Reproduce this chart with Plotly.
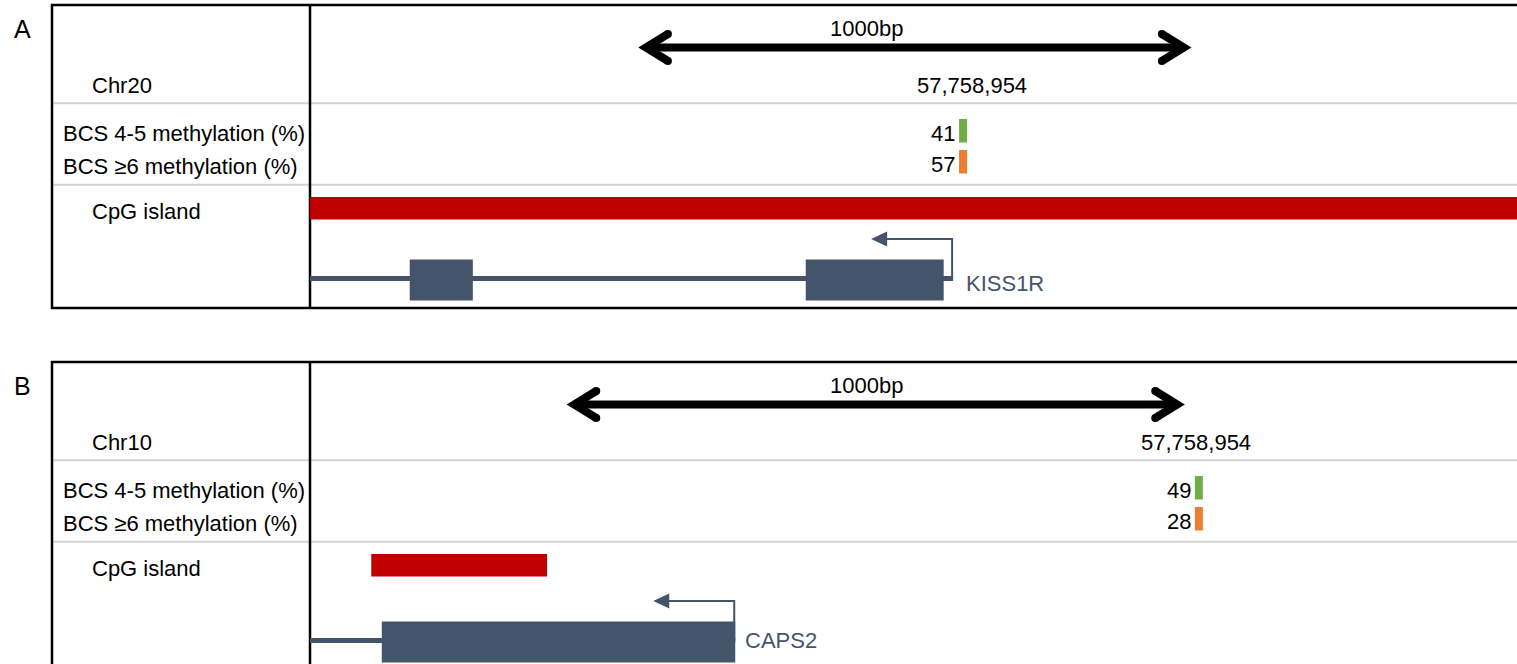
import plotly.graph_objects as go

# ---------------- data ----------------
panel_letters = ["A", "B"]
chrom_labels = ["Chr20", "Chr10"]
gene_names = ["KISS1R", "CAPS2"]

# genomic window drawn in each panel (bp)
view_start = [57757775, 57757518]
view_end = [57759954, 57759468]

# profiled CpG site and its methylation levels
cpg_site = [57758954, 57758954]
site_labels = ["57,758,954", "57,758,954"]
meth_bcs_4_5 = [41, 49]
meth_bcs_6_plus = [57, 28]

# scale bar
scale_start = [57758367, 57757932]
scale_len_bp = 1000
scale_label = "1000bp"

# CpG island
island_start = [57757700, 57757617]
island_end = [57760100, 57757901]

# transcript (minus strand, TSS on the right)
tx_start = [57757700, 57757400]
tss = [57758936, 57758205]
exon_starts = [[57757955, 57758670], [57757634]]
exon_ends = [[57758069, 57758919], [57758205]]

track_labels = ["BCS 4-5 methylation (%)", "BCS \u22656 methylation (%)", "CpG island"]

# ---------------- style ----------------
W, H = 1517, 664
BOX_LEFT = 52
DIVIDER = 310
PANEL_TOP = [5, 362]
PANEL_HEIGHT = [303, 312]      # the lower frame runs off the bottom edge
GENE_ROW = [275, 280]          # exon centre, relative to panel top
GENE = "#44546A"
ISLAND = "#C00000"
GREEN = "#70AD47"
ORANGE = "#ED7D31"
SEP = "#D3D3D3"
FONT = "Liberation Sans, Arial, sans-serif"
FS = 22

fig = go.Figure()
shapes = []
annotations = []


def px(x):
    return x / W


def text(x, y, s, xref="paper", xanchor="left", size=FS, color="black", xshift=0):
    annotations.append(dict(
        x=x, y=y, xref=xref, yref="y", text=s, showarrow=False,
        xanchor=xanchor, yanchor="middle", xshift=xshift,
        font=dict(family=FONT, size=size, color=color)))


for i in range(2):
    xr = "x" if i == 0 else "x2"
    top = PANEL_TOP[i]
    bottom = top + PANEL_HEIGHT[i]

    # keep the axis alive with an invisible trace
    fig.add_trace(go.Scatter(
        x=[view_start[i], view_end[i]], y=[top, top], mode="lines",
        line=dict(width=0), opacity=0, hoverinfo="skip", showlegend=False,
        xaxis=xr, yaxis="y"))

    # row separators
    for rel in (98.3, 179.7):
        shapes.append(dict(type="line", xref="paper", yref="y",
                           x0=px(BOX_LEFT), x1=1.01, y0=top + rel, y1=top + rel,
                           line=dict(color=SEP, width=2)))
    # frame and column divider
    shapes.append(dict(type="rect", xref="paper", yref="y",
                       x0=px(BOX_LEFT), x1=1.01, y0=top, y1=bottom,
                       line=dict(color="black", width=2.5), fillcolor="rgba(0,0,0,0)"))
    shapes.append(dict(type="line", xref="paper", yref="y",
                       x0=px(DIVIDER), x1=px(DIVIDER), y0=top, y1=bottom,
                       line=dict(color="black", width=2.5)))

    # panel letter and left-column labels
    text(px(22), top + 24, panel_letters[i], xanchor="center", size=25)
    text(px(90), top + 80.5, chrom_labels[i])
    text(px(61), top + 128.5, track_labels[0])
    text(px(61), top + 161.5, track_labels[1])
    text(px(90), top + 206, track_labels[2])

    # scale bar: shaft with pixel insets, chevron heads anchored to its ends
    sy = top + 42.5
    s0 = scale_start[i]
    s1 = scale_start[i] + scale_len_bp
    annotations.append(dict(
        x=s1, y=sy, ax=s0, ay=sy, xref=xr, yref="y", axref=xr, ayref="y",
        text="", showarrow=True, arrowhead=0, arrowwidth=8, arrowcolor="black",
        standoff=9, startstandoff=9))
    for anchor, sgn in ((s0, 1), (s1, -1)):
        shapes.append(dict(
            type="path", xref=xr, yref="y", xsizemode="pixel", xanchor=anchor,
            path=f"M{30 * sgn},{sy - 13.5} L{8 * sgn},{sy} L{30 * sgn},{sy + 13.5}",
            line=dict(color="black", width=8)))
        for dy in (-13.5, 13.5):
            shapes.append(dict(
                type="circle", xref=xr, yref="y", xsizemode="pixel", xanchor=anchor,
                x0=30 * sgn - 4, x1=30 * sgn + 4, y0=sy + dy - 4, y1=sy + dy + 4,
                fillcolor="black", line=dict(width=0)))
    text(px(866), top + 23, scale_label, xanchor="center")

    # site coordinate
    text(cpg_site[i], top + 80.5, site_labels[i], xref=xr, xanchor="center",
         xshift=(9 if i == 0 else -3))

    # methylation ticks and values
    for val, color, (y0, y1) in ((meth_bcs_4_5[i], GREEN, (114, 137.5)),
                                 (meth_bcs_6_plus[i], ORANGE, (145, 168.5))):
        shapes.append(dict(
            type="rect", xref=xr, yref="y", xsizemode="pixel", xanchor=cpg_site[i],
            x0=-4, x1=4, y0=top + y0, y1=top + y1,
            fillcolor=color, line=dict(width=0)))
        text(cpg_site[i], top + (y0 + y1) / 2 + 3, str(val), xref=xr,
             xanchor="right", xshift=-6)

    # CpG island
    shapes.append(dict(type="rect", xref=xr, yref="y",
                       x0=island_start[i], x1=island_end[i],
                       y0=top + 192, y1=top + 214.5,
                       fillcolor=ISLAND, line=dict(width=0)))

    # transcript: intron line, TSS arrow, exons
    gy = top + GENE_ROW[i]
    ly = gy - 1.5
    ay = gy - 41
    shapes.append(dict(type="line", xref=xr, yref="y",
                       x0=tx_start[i], x1=tss[i], y0=ly, y1=ly,
                       line=dict(color=GENE, width=5)))
    shapes.append(dict(type="path", xref=xr, yref="y", xsizemode="pixel",
                       xanchor=tss[i], path=f"M-1,{ly} V{ay} H-67",
                       line=dict(color=GENE, width=2)))
    shapes.append(dict(type="path", xref=xr, yref="y", xsizemode="pixel",
                       xanchor=tss[i],
                       path=f"M-82,{ay} L-66,{ay - 7.5} L-66,{ay + 7.5} Z",
                       fillcolor=GENE, line=dict(width=0)))
    for e0, e1 in zip(exon_starts[i], exon_ends[i]):
        shapes.append(dict(type="rect", xref=xr, yref="y",
                           x0=e0, x1=e1, y0=gy - 20.5, y1=gy + 20.5,
                           fillcolor=GENE, line=dict(width=0)))
    text(tss[i], top + 278, gene_names[i], xref=xr, xanchor="left",
         color=GENE, xshift=(11 if i == 0 else 8))

fig.update_layout(
    width=W, height=H,
    margin=dict(l=0, r=0, t=0, b=0),
    paper_bgcolor="white", plot_bgcolor="white",
    showlegend=False,
    xaxis=dict(domain=[px(DIVIDER), 1], range=[view_start[0], view_end[0]],
               visible=False, fixedrange=True),
    xaxis2=dict(domain=[px(DIVIDER), 1], range=[view_start[1], view_end[1]],
                visible=False, fixedrange=True, overlaying="x", anchor="y"),
    yaxis=dict(domain=[0, 1], range=[H, 0], visible=False, fixedrange=True),
    shapes=shapes,
    annotations=annotations,
)

fig.write_html("out.html")
